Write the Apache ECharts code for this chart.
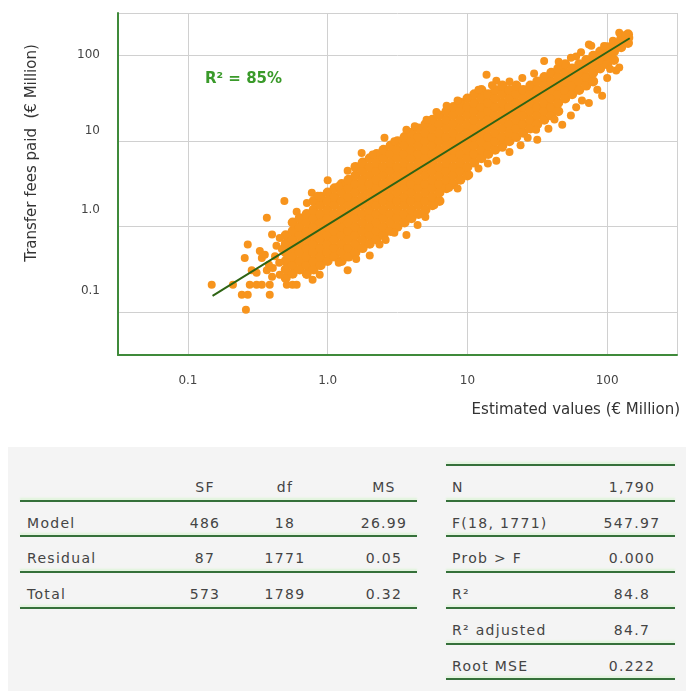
<!DOCTYPE html>
<html>
<head>
<meta charset="utf-8">
<title>Transfer fees paid vs estimated values</title>
<script src="https://cdn.jsdelivr.net/npm/echarts@6/dist/echarts.min.js"></script>
<style>
  html, body { margin: 0; padding: 0; background: #fff; }
  body { width: 686px; height: 691px; position: relative; overflow: hidden; font-family: "DejaVu Sans", sans-serif; }
  #chart { position: absolute; left: 0; top: 0; width: 686px; height: 440px; }
  #stats { position: absolute; left: 8px; top: 447px; width: 678px; height: 244px; background: #f4f4f4; }
  .cell { position: absolute; font-size: 14px; line-height: 16px; color: #444; letter-spacing: 1.3px; white-space: nowrap; }
  .num { width: 100px; text-align: center; }
  .rule { position: absolute; height: 2px; background: #35703a; box-shadow: 0 -2px 2px #dcf3d6; }
</style>
</head>
<body>
<div id="chart"></div>
<div id="stats"></div>
<script>
// axis ticks (log scale, both axes)
const logTicks = [0.1, 1, 10, 100];
const tickLabels = ["0.1", "1.0", "10", "100"];
const axisMin = 0.0316;
const axisMax = 316;

// scatter cloud, read column by column: [estimated value, [fees paid...]]
const colsBelowOne = [
  [0.501, [0.251, 0.316, 0.398, 0.501, 0.631, 0.794]],
  [0.562, [0.282, 0.355, 0.447, 0.562, 0.708, 0.891, 1.12]],
  [0.631, [0.316, 0.398, 0.501, 0.631, 0.794, 1, 1.26]],
  [0.708, [0.282, 0.355, 0.447, 0.562, 0.708, 0.891, 1.12, 1.41]],
  [0.794, [0.316, 0.398, 0.501, 0.631, 0.794, 1, 1.26, 1.58, 2]],
  [0.891, [0.355, 0.447, 0.562, 0.708, 0.891, 1.12, 1.41, 1.78, 2.24]]
];
const colsOneToTen = [
  [1, [0.398, 0.501, 0.631, 0.794, 1, 1.26, 1.58, 2, 2.51]],
  [1.12, [0.447, 0.562, 0.708, 0.891, 1.12, 1.41, 1.78, 2.24, 2.82]],
  [1.26, [0.398, 0.501, 0.631, 0.794, 1, 1.26, 1.58, 2, 2.51, 3.16]],
  [1.41, [0.447, 0.562, 0.708, 0.891, 1.12, 1.41, 1.78, 2.24, 2.82, 3.55]],
  [1.58, [0.501, 0.631, 0.794, 1, 1.26, 1.58, 2, 2.51, 3.16, 3.98, 5.01]],
  [1.78, [0.562, 0.708, 0.891, 1.12, 1.41, 1.78, 2.24, 2.82, 3.55, 4.47, 5.62]],
  [2, [0.631, 0.794, 1, 1.26, 1.58, 2, 2.51, 3.16, 3.98, 5.01, 6.31]],
  [2.24, [0.708, 0.891, 1.12, 1.41, 1.78, 2.24, 2.82, 3.55, 4.47, 5.62, 7.08]],
  [2.51, [0.794, 1, 1.26, 1.58, 2, 2.51, 3.16, 3.98, 5.01, 6.31, 7.94]],
  [2.82, [0.891, 1.12, 1.41, 1.78, 2.24, 2.82, 3.55, 4.47, 5.62, 7.08, 8.91]],
  [3.16, [1, 1.26, 1.58, 2, 2.51, 3.16, 3.98, 5.01, 6.31, 7.94, 10]],
  [3.55, [1.12, 1.41, 1.78, 2.24, 2.82, 3.55, 4.47, 5.62, 7.08, 8.91, 11.2]],
  [3.98, [1.26, 1.58, 2, 2.51, 3.16, 3.98, 5.01, 6.31, 7.94, 10, 12.6]],
  [4.47, [1.41, 1.78, 2.24, 2.82, 3.55, 4.47, 5.62, 7.08, 8.91, 11.2, 14.1]],
  [5.01, [1.58, 2, 2.51, 3.16, 3.98, 5.01, 6.31, 7.94, 10, 12.6, 15.8]],
  [5.62, [1.78, 2.24, 2.82, 3.55, 4.47, 5.62, 7.08, 8.91, 11.2, 14.1, 17.8]],
  [6.31, [2, 2.51, 3.16, 3.98, 5.01, 6.31, 7.94, 10, 12.6, 15.8, 20]],
  [7.08, [2.82, 3.55, 4.47, 5.62, 7.08, 8.91, 11.2, 14.1, 17.8, 22.4]],
  [7.94, [3.16, 3.98, 5.01, 6.31, 7.94, 10, 12.6, 15.8, 20, 25.1]],
  [8.91, [3.55, 4.47, 5.62, 7.08, 8.91, 11.2, 14.1, 17.8, 22.4, 28.2]]
];
const colsTenToHundred = [
  [10, [3.98, 5.01, 6.31, 7.94, 10, 12.6, 15.8, 20, 25.1, 31.6]],
  [11.2, [5.62, 7.08, 8.91, 11.2, 14.1, 17.8, 22.4, 28.2, 35.5]],
  [12.6, [6.31, 7.94, 10, 12.6, 15.8, 20, 25.1, 31.6, 39.8]],
  [14.1, [7.08, 8.91, 11.2, 14.1, 17.8, 22.4, 28.2, 35.5]],
  [15.8, [7.94, 10, 12.6, 15.8, 20, 25.1, 31.6, 39.8]],
  [17.8, [8.91, 11.2, 14.1, 17.8, 22.4, 28.2, 35.5, 44.7]],
  [20, [10, 12.6, 15.8, 20, 25.1, 31.6, 39.8]],
  [22.4, [11.2, 14.1, 17.8, 22.4, 28.2, 35.5, 44.7]],
  [25.1, [12.6, 15.8, 20, 25.1, 31.6, 39.8]],
  [28.2, [14.1, 17.8, 22.4, 28.2, 35.5, 44.7]],
  [31.6, [15.8, 20, 25.1, 31.6, 39.8, 50.1]],
  [35.5, [17.8, 22.4, 28.2, 35.5, 44.7, 56.2]],
  [39.8, [20, 25.1, 31.6, 39.8, 50.1, 63.1]],
  [44.7, [22.4, 28.2, 35.5, 44.7, 56.2, 70.8]],
  [50.1, [31.6, 39.8, 50.1, 63.1, 79.4]],
  [56.2, [35.5, 44.7, 56.2, 70.8]],
  [63.1, [39.8, 50.1, 63.1, 79.4]],
  [70.8, [44.7, 56.2, 70.8, 89.1]],
  [79.4, [50.1, 63.1, 79.4, 100]],
  [89.1, [70.8, 89.1, 112]]
];
const colsAboveHundred = [
  [100, [79.4, 100, 126]],
  [112, [89.1, 112, 141]],
  [126, [126, 158]],
  [141, [141, 178]]
];

// scattered points on the edges of the cloud: [estimated, paid]
const lowerLeftPoints = [
  [0.148, 0.21], [0.21, 0.21], [0.243, 0.16], [0.268, 0.16], [0.26, 0.107],
  [0.385, 0.16], [0.268, 0.62], [0.255, 0.43], [0.286, 0.31], [0.327, 0.52],
  [0.338, 0.43], [0.355, 0.47], [0.277, 0.21], [0.31, 0.21], [0.338, 0.21],
  [0.385, 0.21], [0.367, 1.27], [0.4, 0.81], [0.454, 0.74], [0.49, 2.0],
  [0.31, 0.29], [0.367, 0.31], [0.405, 0.33], [0.454, 0.275], [0.51, 0.21],
  [0.56, 0.21], [0.6, 0.21], [0.71, 1.9], [0.77, 2.5], [0.42, 0.45],
  [0.45, 0.38], [0.4, 0.26], [0.43, 0.6], [0.47, 0.55], [0.38, 0.36]
];
const upperEdgePoints = [
  [1, 3.5], [1.39, 4.5], [1.75, 7.3], [2.55, 11], [3.66, 13.6], [5.1, 17.8],
  [7.1, 26], [10, 32], [13.7, 60], [16.1, 51], [24.7, 55], [35.4, 87],
  [74, 135], [122, 186], [144, 162], [88, 108], [77, 131], [60, 98],
  [0.6, 1.5], [0.85, 2.3], [1.2, 3.0], [2.1, 7], [3, 10], [4.2, 15],
  [6, 22], [8.5, 30], [12, 40], [15, 45], [20, 50], [30, 62], [45, 85],
  [55, 95], [65, 110], [95, 130], [110, 150], [120, 140], [135, 175]
];
const lowerEdgePoints = [
  [1.39, 0.31], [0.877, 0.275], [0.71, 0.275], [0.78, 0.24], [2.0, 0.46],
  [2.35, 0.62], [3.66, 0.8], [4.4, 1.05], [6.3, 2.0], [7.4, 2.86],
  [10.3, 4.06], [16.1, 5.9], [17.8, 8.4], [31.6, 10.4], [31, 13.6],
  [47.7, 15.6], [74, 28], [92, 34], [116, 67], [122, 73],
  [1.2, 0.38], [1.6, 0.42], [2.6, 0.7], [3, 0.85], [5, 1.3], [5.8, 1.8],
  [8.5, 2.8], [12, 4.8], [14, 5.5], [20, 7.5], [24, 9], [27, 11],
  [38, 14], [42, 18], [55, 20], [60, 25], [66, 30], [85, 40], [100, 55], [105, 70]
];

// fitted line end points
const fitLine = [[0.15, 0.155], [145, 160]];

// statistics tables
const anovaHeader = ["SF", "df", "MS"];
const anovaRows = [
  ["Model", "486", "18", "26.99"],
  ["Residual", "87", "1771", "0.05"],
  ["Total", "573", "1789", "0.32"]
];
const fitStats = [
  ["N", "1,790"],
  ["F(18, 1771)", "547.97"],
  ["Prob > F", "0.000"],
  ["R\u00b2", "84.8"],
  ["R\u00b2 adjusted", "84.7"],
  ["Root MSE", "0.222"]
];

const cloudPoints = [colsBelowOne, colsOneToTen, colsTenToHundred, colsAboveHundred]
  .flatMap(cols => cols.flatMap(([x, ys]) => ys.map(y => [x, y])));
const edgePoints = lowerLeftPoints.concat(upperEdgePoints, lowerEdgePoints);

function tickIndex(v) {
  for (let i = 0; i < logTicks.length; i++) {
    if (Math.abs(Math.log10(v / logTicks[i])) < 0.01) return i;
  }
  return -1;
}

const orange = "#f7941d";
const axisGreen = "#3f8a3a";
const gridGrey = "#d0d0d0";
const labelColor = "#444";
// the y tick labels sit a little above their grid lines in the original
const yLabelPad = [42, 34, 20, 2];

const chart = echarts.init(document.getElementById("chart"));
chart.setOption({
  animation: false,
  textStyle: { fontFamily: "DejaVu Sans" },
  grid: { left: 118, right: 9, top: 13, bottom: 85 },
  xAxis: {
    type: "log",
    logBase: 10,
    min: axisMin,
    max: axisMax,
    name: "Estimated values (\u20ac Million)",
    nameLocation: "end",
    nameGap: 3,
    nameTextStyle: {
      color: "#333",
      fontSize: 15,
      align: "right",
      verticalAlign: "top",
      padding: [48, 0, 0, 0]
    },
    axisLine: { lineStyle: { color: axisGreen, width: 2 } },
    axisTick: { show: false },
    splitLine: { show: true, lineStyle: { color: gridGrey, width: 1 } },
    axisLabel: {
      color: labelColor,
      fontSize: 12,
      margin: 20,
      formatter: function(v) {
        const i = tickIndex(v);
        return i >= 0 ? tickLabels[i] : "";
      }
    }
  },
  yAxis: {
    type: "log",
    logBase: 10,
    min: axisMin,
    max: axisMax,
    name: "Transfer fees paid  (\u20ac Million)",
    nameLocation: "middle",
    nameGap: 78,
    nameTextStyle: {
      color: "#333",
      fontSize: 15,
      padding: [0, 0, 0, 62]
    },
    axisLine: { lineStyle: { color: axisGreen, width: 2 } },
    axisTick: { show: false },
    splitLine: { show: true, lineStyle: { color: gridGrey, width: 1 } },
    axisLabel: {
      color: labelColor,
      fontSize: 12,
      margin: 18,
      formatter: function(v) {
        const i = tickIndex(v);
        return i >= 0 ? "{p" + i + "|" + tickLabels[i] + "}" : "";
      },
      rich: {
        p0: { fontSize: 12, color: labelColor, padding: [0, 0, yLabelPad[0], 0] },
        p1: { fontSize: 12, color: labelColor, padding: [0, 0, yLabelPad[1], 0] },
        p2: { fontSize: 12, color: labelColor, padding: [0, 0, yLabelPad[2], 0] },
        p3: { fontSize: 12, color: labelColor, padding: [0, 0, yLabelPad[3], 0] }
      }
    }
  },
  graphic: [
    {
      type: "text",
      left: 205,
      top: 72,
      style: {
        text: "R\u00b2 = 85%",
        fill: "#3a9a2a",
        font: "bold 15px 'DejaVu Sans'"
      }
    }
  ],
  series: [
    {
      name: "cloud",
      type: "scatter",
      silent: true,
      symbolSize: 10,
      itemStyle: { color: orange, opacity: 1 },
      data: cloudPoints,
      z: 2
    },
    {
      name: "edge",
      type: "scatter",
      silent: true,
      symbolSize: 8,
      itemStyle: { color: orange, opacity: 1 },
      data: edgePoints,
      z: 2
    },
    {
      name: "fit",
      type: "line",
      silent: true,
      symbol: "none",
      lineStyle: { color: "#2e6414", width: 2 },
      data: fitLine,
      z: 3
    }
  ]
});

// tables under the chart
const stats = document.getElementById("stats");
const ROW0 = 17;
const ROW_STEP = 35.7;
function ruleTop(k) { return ROW0 + k * ROW_STEP; }

function addText(text, left, top, cls) {
  const d = document.createElement("div");
  d.className = "cell" + (cls ? " " + cls : "");
  d.textContent = text;
  d.style.left = left + "px";
  d.style.top = top + "px";
  stats.appendChild(d);
}
function addRule(left, top, width) {
  const d = document.createElement("div");
  d.className = "rule";
  d.style.left = left + "px";
  d.style.top = top + "px";
  d.style.width = width + "px";
  stats.appendChild(d);
}

// left table
const numCentres = [197, 277, 376];
anovaHeader.forEach((h, c) => addText(h, numCentres[c] - 50, ruleTop(0) + 15, "num"));
anovaRows.forEach((row, r) => {
  addRule(12, ruleTop(r + 1), 397);
  addText(row[0], 19, ruleTop(r + 1) + 15);
  row.slice(1).forEach((v, c) => addText(v, numCentres[c] - 50, ruleTop(r + 1) + 15, "num"));
});
addRule(12, ruleTop(anovaRows.length + 1), 397);

// right table
fitStats.forEach((row, r) => {
  addRule(438, ruleTop(r), 229);
  addText(row[0], 444, ruleTop(r) + 15);
  addText(row[1], 624 - 50, ruleTop(r) + 15, "num");
});
addRule(438, ruleTop(fitStats.length), 229);
</script>
</body>
</html>
